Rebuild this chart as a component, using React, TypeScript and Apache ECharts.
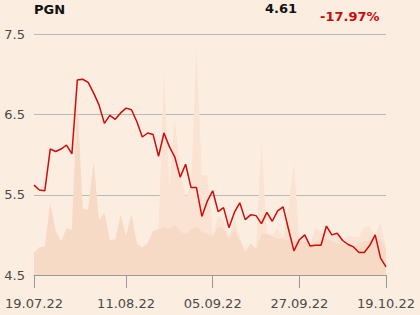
import React, { useEffect, useRef } from "react";
import * as echarts from "echarts";

const ticker = "PGN";
const lastPrice = "4.61";
const change = "-17.97%";

const dates = [
  "19.07.22","20.07.22","21.07.22","22.07.22","25.07.22","26.07.22","27.07.22","28.07.22","29.07.22",
  "01.08.22","02.08.22","03.08.22","04.08.22","05.08.22","08.08.22","09.08.22","10.08.22","11.08.22","12.08.22",
  "16.08.22","17.08.22","18.08.22","19.08.22","22.08.22","23.08.22","24.08.22","25.08.22","26.08.22",
  "29.08.22","30.08.22","31.08.22","01.09.22","02.09.22","05.09.22","06.09.22","07.09.22","08.09.22","09.09.22",
  "12.09.22","13.09.22","14.09.22","15.09.22","16.09.22","19.09.22","20.09.22","21.09.22","22.09.22","23.09.22",
  "26.09.22","27.09.22","28.09.22","29.09.22","30.09.22","03.10.22","04.10.22","05.10.22","06.10.22","07.10.22",
  "10.10.22","11.10.22","12.10.22","13.10.22","14.10.22","17.10.22","18.10.22","19.10.22"
];

const labelDates = ["19.07.22", "11.08.22", "05.09.22", "27.09.22", "19.10.22"];

const price = [
  5.62, 5.56, 5.55, 6.07, 6.04, 6.07, 6.12, 6.01, 6.93, 6.94,
  6.90, 6.77, 6.62, 6.39, 6.49, 6.44, 6.52, 6.58, 6.56, 6.41,
  6.22, 6.27, 6.25, 5.98, 6.27, 6.10, 5.97, 5.72, 5.88, 5.59,
  5.59, 5.23, 5.42, 5.55, 5.29, 5.34, 5.09, 5.28, 5.40, 5.19,
  5.25, 5.24, 5.14, 5.28, 5.17, 5.30, 5.35, 5.07, 4.80, 4.94,
  5.00, 4.86, 4.87, 4.87, 5.11, 5.00, 5.02, 4.93, 4.88, 4.85,
  4.78, 4.78, 4.87, 5.00, 4.71, 4.60
];

const volumeHigh = [
  9.3, 11.5, 11.8, 29.8, 18.3, 13.8, 19.4, 18.7, 72.3, 27.4,
  27.0, 46.7, 22.6, 25.9, 14.5, 14.8, 24.9, 16.2, 24.9, 12.9,
  11.5, 13.2, 18.3, 19.0, 84.5, 36.7, 65.1, 42.3, 32.5, 36.7,
  93.8, 41.5, 41.5, 16.6, 24.5, 22.9, 15.9, 22.9, 15.9, 9.7,
  13.2, 11.1, 55.0, 17.3, 16.6, 19.4, 15.2, 28.4, 47.1, 14.5,
  16.6, 12.5, 20.1, 17.3, 20.1, 16.6, 16.6, 14.5, 16.2, 15.9,
  15.7, 20.1, 20.1, 16.6, 21.7, 11.1
];

const volumeLow = [
  9.3, 11.5, 11.8, 29.8, 18.3, 13.8, 19.4, 18.7, 72.3, 27.4,
  27.0, 46.7, 22.6, 25.9, 14.5, 14.8, 24.9, 16.2, 24.9, 12.9,
  11.5, 13.2, 18.3, 19.0, 20.0, 19.0, 21.0, 18.0, 17.0, 19.0,
  20.0, 18.0, 17.0, 16.0, 20.0, 19.0, 15.0, 19.0, 14.0, 9.7,
  13.0, 11.0, 17.0, 17.0, 16.0, 15.0, 15.0, 14.0, 14.0, 14.0,
  14.0, 12.5, 14.0, 15.0, 15.0, 14.0, 13.0, 13.0, 12.0, 12.0,
  13.0, 14.0, 14.0, 15.0, 15.0, 11.0
];

const BG = "#fcede1";
const FONT = "DejaVu Sans";

export default function App() {
  const ref = useRef<HTMLDivElement>(null);

  useEffect(() => {
    document.body.style.margin = "0";
    document.body.style.background = BG;
    const chart = echarts.init(ref.current!, null, { renderer: "svg" });
    const showIdx = (i: number) => labelDates.indexOf(dates[i]) >= 0;
    chart.setOption({
      animation: false,
      backgroundColor: BG,
      grid: { left: 34, right: 34, top: 34.3, bottom: 40, containLabel: false },
      graphic: [
        {
          type: "text",
          left: 34,
          top: 3,
          style: { text: ticker, font: `bold 13px "${FONT}"`, fill: "#111" },
        },
        {
          type: "text",
          left: 265,
          top: 2,
          style: { text: lastPrice, font: `bold 13px "${FONT}"`, fill: "#111" },
        },
        {
          type: "text",
          left: 320,
          top: 9.5,
          style: { text: change, font: `bold 13px "${FONT}"`, fill: "#cc0a0a" },
        },
      ],
      xAxis: {
        type: "category",
        data: dates,
        boundaryGap: false,
        axisLine: { show: true, lineStyle: { color: "#999999", width: 1 } },
        axisTick: {
          show: true,
          length: 13,
          interval: (i: number) => showIdx(i),
          lineStyle: { color: "#999999" },
        },
        axisLabel: {
          interval: (i: number) => showIdx(i),
          margin: 22,
          color: "#4a4a4a",
          fontFamily: FONT,
          fontSize: 13,
        },
        splitLine: { show: false },
      },
      yAxis: [
        {
          type: "value",
          min: 4.5,
          max: 7.5,
          interval: 1,
          axisLine: { show: false },
          axisTick: { show: false },
          axisLabel: {
            margin: 9,
            color: "#4a4a4a",
            fontFamily: FONT,
            fontSize: 13,
            formatter: (v: number) => v.toFixed(1),
          },
          splitLine: { show: true, lineStyle: { color: "#b8b8b8", width: 1 } },
        },
        {
          type: "value",
          min: 0,
          max: 100,
          show: false,
          splitLine: { show: false },
        },
      ],
      series: [
        {
          type: "line",
          yAxisIndex: 1,
          data: volumeHigh,
          showSymbol: false,
          lineStyle: { width: 0 },
          areaStyle: { color: "#fae3d3", opacity: 1 },
          z: 1,
        },
        {
          type: "line",
          yAxisIndex: 1,
          data: volumeLow,
          showSymbol: false,
          lineStyle: { width: 0 },
          areaStyle: { color: "#f7dac6", opacity: 1 },
          z: 2,
        },
        {
          type: "line",
          yAxisIndex: 0,
          data: price,
          showSymbol: false,
          lineStyle: { color: "#d10a0a", width: 1.5 },
          z: 3,
        },
      ],
    });
    return () => chart.dispose();
  }, []);

  return (
    <div
      ref={ref}
      style={{ position: "fixed", left: 0, top: 0, width: 420, height: 315 }}
    />
  );
}
